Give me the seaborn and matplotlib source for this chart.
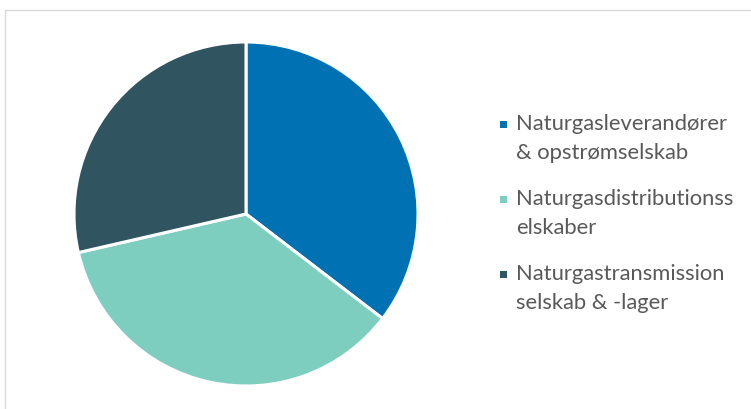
import matplotlib
matplotlib.use("Agg")
import matplotlib.pyplot as plt
import seaborn as sns
from matplotlib.patches import Rectangle

sns.set_theme(style="white")
plt.rcParams['font.family'] = ['Lato', 'DejaVu Sans']

categories = ["Naturgasleverandører\n& opstrømselskab",
              "Naturgasdistributionss\nelskaber",
              "Naturgastransmission\nselskab & -lager"]
values = [35.4, 36.0, 28.6]
colors = ["#0071B2", "#7ECEC0", "#305560"]

W, H = 751, 409
fig = plt.figure(figsize=(W / 100, H / 100), dpi=100)
fig.patch.set_facecolor("white")

# chart frame
fig.add_artist(Rectangle((5 / W, -0.1), 1.2, (H - 10) / H + 0.1, transform=fig.transFigure,
                         fill=False, edgecolor="#D9D9D9", linewidth=1.0))

cx, cy, r = 246, 214, 172
ax = fig.add_axes([(cx - r) / W, (H - cy - r) / H, 2 * r / W, 2 * r / H])
wedges, _ = ax.pie(values, colors=colors, startangle=90, counterclock=False,
                   wedgeprops=dict(edgecolor="white", linewidth=2.2))
ax.set_xlim(-1, 1)
ax.set_ylim(-1, 1)
ax.set_aspect("equal")
ax.axis("off")

y0 = 114
for i, (lab, col) in enumerate(zip(categories, colors)):
    ytop = y0 + i * 75
    fig.text(516 / W, 1 - ytop / H, lab, ha="left", va="top", fontsize=15.8,
             color="#595959", linespacing=1.55)
    fig.add_artist(Rectangle((500 / W, 1 - (ytop + 14) / H), 7 / W, 7 / H,
                             transform=fig.transFigure, facecolor=col, edgecolor="none"))

fig.savefig("out.png", dpi=100, facecolor="white")
